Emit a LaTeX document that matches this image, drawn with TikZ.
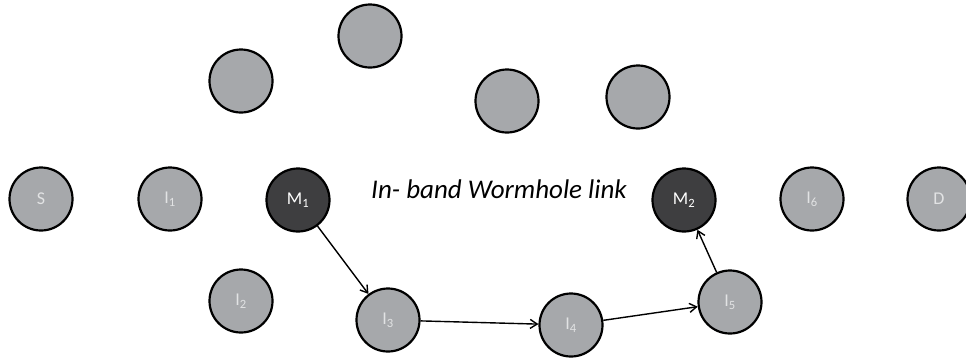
\documentclass[tikz,border=0pt]{standalone}
\usepackage{fontspec}
\setmainfont{Carlito}
\usetikzlibrary{arrows.meta}
\definecolor{nodegray}{HTML}{A6A8AB}
\definecolor{nodedark}{HTML}{3E3E40}
\definecolor{labgray}{HTML}{E2E3E4}
\begin{document}
\begin{tikzpicture}[x=1pt,y=-1pt,
  nd/.style={circle,draw=black,line width=2.2pt,fill=nodegray,minimum size=63pt,inner sep=0pt,text=labgray,font=\fontsize{18}{18}\selectfont},
  mal/.style={nd,fill=nodedark,text=white},
  conn/.style={line width=1.4pt,-{Straight Barb[length=7pt,width=9pt,line width=1.4pt]}}]
\useasboundingbox (0,0) rectangle (966,360);
\node[nd] (t1) at (241,81) {};
\node[nd] (t2) at (370,36) {};
\node[nd] (t3) at (507,101) {};
\node[nd] (t4) at (638,97) {};
\node[nd] (S) at (41,199) {S};
\node[nd] (I1) at (170,199) {I\textsubscript{1}};
\node[mal] (M1) at (298,200) {M\textsubscript{1}};
\node[mal] (M2) at (684,200) {M\textsubscript{2}};
\node[nd] (I6) at (812,199) {I\textsubscript{6}};
\node[nd] (D) at (939,199) {D};
\node[nd] (I2) at (241,301) {I\textsubscript{2}};
\node[nd] (I3) at (388,320) {I\textsubscript{3}};
\node[nd] (I4) at (571,325) {I\textsubscript{4}};
\node[nd] (I5) at (730,302) {I\textsubscript{5}};
\node[font=\fontsize{27}{27}\itshape\selectfont,inner sep=0pt] (lbl) at (499,189) {In- band Wormhole link};
\draw[conn] (M1) -- (I3);
\draw[conn] (I3) -- (I4);
\draw[conn] (I4) -- (I5);
\draw[conn] (I5) -- (M2);
\end{tikzpicture}
\end{document}
